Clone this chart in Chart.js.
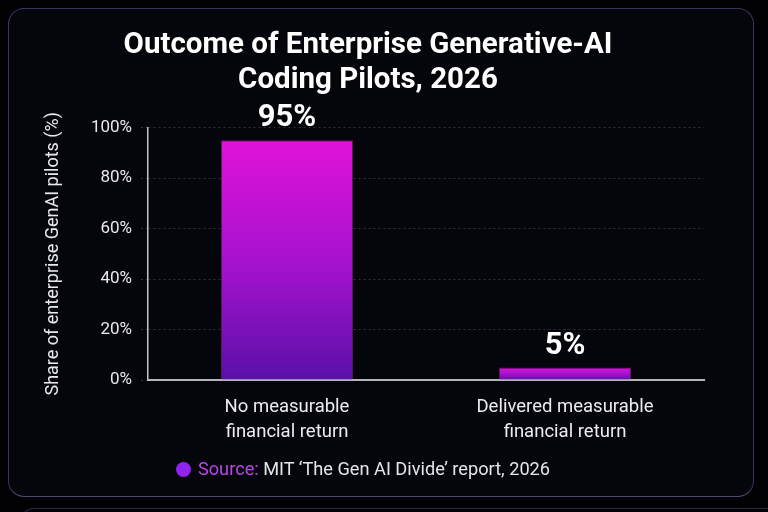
<!DOCTYPE html>
<html>
<head>
<meta charset="utf-8">
<script src="https://cdn.jsdelivr.net/npm/chart.js@4.4.1/dist/chart.umd.min.js"></script>
<style>
  html, body { margin: 0; padding: 0; background: #010103; }
  #wrap { position: relative; width: 768px; height: 512px; overflow: hidden; background: #010103; }
  #card { position: absolute; left: 8px; top: 8px; width: 746px; height: 489px; border: 1.5px solid #3b355e;
          border-bottom-color: #54476e; border-radius: 16px; background: #05050c; box-sizing: border-box; }
  #next { position: absolute; left: 20px; top: 508px; width: 760px; height: 20px; border-top: 1.5px solid #2c2848;
          border-left: 1.5px solid #2c2848; border-radius: 14px 0 0 0; }
  canvas { position: absolute; left: 0; top: 0; }
  #source { position: absolute; left: 0; width: 726px; top: 458px; text-align: center;
            font-family: Roboto, "Noto Sans", sans-serif; font-size: 18.2px; color: #e4e4ea; white-space: nowrap; }
  #source .dot { display: inline-block; width: 15px; height: 15px; border-radius: 50%; background: #9222ee;
                 vertical-align: -2px; margin-right: 7px; }
  #source .lab { color: #b846e6; }
</style>
</head>
<body>
<div id="wrap">
  <div id="card"></div>
  <div id="next"></div>
  <canvas id="c" width="768" height="512"></canvas>
  <div id="source"><span class="dot"></span><span class="lab">Source:</span> MIT ‘The Gen AI Divide’ report, 2026</div>
</div>
<script>
const categories = [["No measurable", "financial return"], ["Delivered measurable", "financial return"]];
const values = [95, 5];
const yTicks = [0, 20, 40, 60, 80, 100];
const titleLines = ["Outcome of Enterprise Generative-AI", "Coding Pilots, 2026"];
const yTitle = "Share of enterprise GenAI pilots (%)";

const FONT = 'Roboto, "Noto Sans", sans-serif';

function barGradient(context) {
  const chart = context.chart;
  const { ctx, chartArea, scales } = chart;
  if (!chartArea || !scales.y) return '#b014d8';
  const v = context.raw;
  const top = scales.y.getPixelForValue(v);
  const bottom = scales.y.getPixelForValue(0);
  if (!isFinite(top) || !isFinite(bottom) || bottom - top < 1) return '#b014d8';
  const g = ctx.createLinearGradient(0, top, 0, bottom);
  g.addColorStop(0, '#e012d8');
  g.addColorStop(0.5, '#a712cf');
  g.addColorStop(1, '#5a10a8');
  return g;
}

const valueLabels = {
  id: 'valueLabels',
  afterDatasetsDraw(chart) {
    const { ctx } = chart;
    const meta = chart.getDatasetMeta(0);
    ctx.save();
    ctx.font = 'bold 31px ' + FONT;
    ctx.fillStyle = '#ffffff';
    ctx.textAlign = 'center';
    ctx.textBaseline = 'bottom';
    meta.data.forEach((bar, i) => {
      ctx.fillText(values[i] + '%', bar.x, bar.y - 6);
    });
    ctx.restore();
  }
};

new Chart(document.getElementById('c'), {
  type: 'bar',
  data: {
    labels: categories,
    datasets: [{
      data: values,
      yAxisID: 'y',
      backgroundColor: barGradient,
      borderColor: 'rgba(240,60,230,0.35)',
      borderWidth: 1,
      borderSkipped: 'bottom',
      barPercentage: 0.97,
      categoryPercentage: 0.49
    }]
  },
  options: {
    responsive: false,
    animation: false,
    devicePixelRatio: 1,
    layout: { padding: { left: 0, right: 32, top: 20, bottom: 0 } },
    plugins: {
      legend: { display: false },
      tooltip: { enabled: false },
      title: {
        display: true,
        text: titleLines,
        color: '#ffffff',
        font: { family: FONT, size: 29.5, weight: 'bold', lineHeight: 1.18 },
        padding: { top: 8, bottom: 30 }
      }
    },
    scales: {
      x: {
        grid: { display: false },
        border: { display: true, color: '#b4b4b8', width: 2 },
        ticks: { color: '#ececf0', font: { family: FONT, size: 18.5, lineHeight: 1.35 }, padding: 7, maxRotation: 0 },
        afterFit(scale) { scale.height = 132; }
      },
      y: {
        min: 0, max: 100,
        afterBuildTicks(scale) { scale.ticks = yTicks.map(v => ({ value: v })); },
        grid: { color: 'rgba(255,255,255,0.17)', lineWidth: 1, tickLength: 7, tickBorderDash: [2, 3] },
        border: { display: true, color: '#c4c4c8', width: 1.5, dash: [2, 3] },
        ticks: { color: '#e8e8ec', font: { family: FONT, size: 17 }, padding: 9, callback: v => v + '%' },
        title: { display: true, text: yTitle, color: '#e8e8ec', font: { family: FONT, size: 18 }, padding: { top: 43, bottom: 0 } },
        afterFit(scale) { scale.width = 148; }
      },
      yRight: {
        position: 'right',
        min: 0, max: 100,
        grid: { display: false, drawOnChartArea: false },
        border: { display: false },
        ticks: { display: false },
        afterFit(scale) { scale.width = 32; }
      }
    }
  },
  plugins: [valueLabels]
});
</script>
</body>
</html>
